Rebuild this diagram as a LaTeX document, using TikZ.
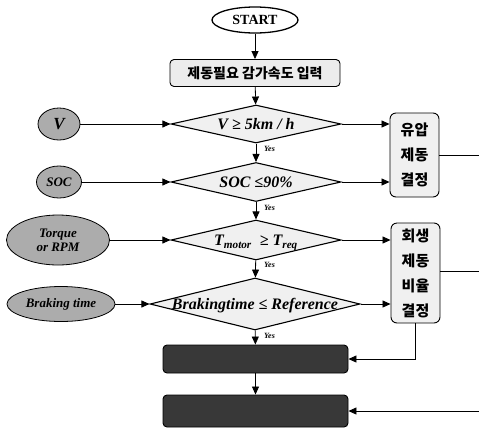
\documentclass[tikz,border=0pt]{standalone}
\usepackage{fontspec}
\setmainfont{Liberation Serif}
\newfontfamily\kr{Noto Sans CJK KR}
\usetikzlibrary{shapes.geometric,arrows.meta}
\newcommand{\dtext}[1]{\smash{\raisebox{-0.34em}{\makebox[0pt]{#1}}}}
\begin{document}
\begin{tikzpicture}[x=1pt,y=-1pt,
  every node/.style={inner sep=0pt},
  arr/.style={-{Triangle[length=8pt,width=7pt]}, line width=0.8pt},
  conn/.style={line width=0.8pt},
  startnode/.style={ellipse,draw,line width=1.3pt,fill=white,minimum width=86pt,minimum height=26pt,font=\bfseries\fontsize{14}{14}\selectfont},
  inbox/.style={rectangle,rounded corners=4pt,draw,line width=0.9pt,fill=gray!15,minimum width=170pt,minimum height=27pt,font=\kr\bfseries\fontsize{14}{14}\selectfont},
  decision/.style={diamond,draw,line width=1.1pt,fill=gray!12,font=\bfseries\itshape\fontsize{16}{16}\selectfont},
  srcoval/.style={ellipse,draw,line width=0.8pt,fill=gray!65,align=center,font=\bfseries\itshape\fontsize{13}{14}\selectfont},
  sidebox/.style={rectangle,rounded corners=6pt,draw,line width=0.9pt,fill=gray!12,minimum width=49pt,align=center,font=\kr\bfseries\fontsize{15}{25}\selectfont},
  darkbox/.style={rectangle,rounded corners=4pt,draw,line width=0.9pt,fill=black!78,minimum width=185pt},
  yes/.style={font=\bfseries\itshape\fontsize{8}{8}\selectfont,anchor=north west}
]
\useasboundingbox (0,0) rectangle (479,429);

% main column
\node[startnode] (start) at (255,20) {START};
\node[inbox] (input) at (255,73) {제동필요 감가속도 입력};
\node[decision,minimum width=170pt,minimum height=38pt] (d1) at (256,124) {\dtext{V ≥ 5km / h}};
\node[decision,minimum width=170pt,minimum height=39pt] (d2) at (256,182) {\dtext{SOC ≤90\%}};
\node[decision,minimum width=170pt,minimum height=40pt] (d3) at (256,240) {\dtext{T\textsubscript{motor}\ \ ≥ T\textsubscript{req}}};
\node[decision,minimum width=210pt,minimum height=52pt] (d4) at (255,304) {\dtext{Brakingtime ≤ Reference}};
\node[darkbox,minimum height=28pt] (dark1) at (255.5,359) {};
\node[darkbox,minimum height=32pt] (dark2) at (255.5,411) {};

% yes labels
\node[yes] (y1) at (264,146) {Yes};
\node[yes] (y2) at (264,205) {Yes};
\node[yes] (y3) at (264,262) {Yes};
\node[yes] (y4) at (264,333) {Yes};

% source ovals
\node[srcoval,minimum width=42pt,minimum height=32pt,font=\bfseries\itshape\fontsize{17}{17}\selectfont] (ovV) at (59,124) {V};
\node[srcoval,minimum width=45pt,minimum height=32pt] (ovS) at (59,182) {SOC};
\node[srcoval,minimum width=103pt,minimum height=50pt] (ovT) at (58,240) {Torque\\or RPM};
\node[srcoval,minimum width=108pt,minimum height=35pt] (ovB) at (61,304) {Braking time};

% side boxes
\node[sidebox,minimum height=84pt] (hyd) at (414.5,155) {유압\\제동\\결정};
\node[sidebox,minimum height=100pt] (regen) at (415.5,273) {회생\\제동\\비율\\결정};

% free ends at the right edge
\coordinate (r1) at (479,155);
\coordinate (r2) at (479,271);
\coordinate (r3) at (479,411);

% connectors
\draw[arr] (start) -- (input);
\draw[arr] (input) -- (d1);
\draw[arr] (d1) -- (d2);
\draw[arr] (d2) -- (d3);
\draw[arr] (d3) -- (d4);
\draw[arr] (d4) -- (dark1);
\draw[arr] (dark1) -- (dark2);

\draw[arr] (ovV.east) -- (d1.west);
\draw[arr] (ovS.east) -- (d2.west);
\draw[arr] (ovT.east) -- (d3.west);
\draw[arr] (ovB.east) -- (d4.west);

\draw[arr] (d1.east) -- (d1.east -| hyd.west);
\draw[arr] (d2.east) -- (d2.east -| hyd.west);
\draw[arr] (d3.east) -- (d3.east -| regen.west);
\draw[arr] (d4.east) -- (d4.east -| regen.west);

\draw[conn] (hyd.east) -- (r1);
\draw[conn] (regen.east |- r2) -- (r2);
\draw[arr] (regen.south) |- (dark1.east);
\draw[arr] (r3) -- (dark2.east);
\end{tikzpicture}
\end{document}
